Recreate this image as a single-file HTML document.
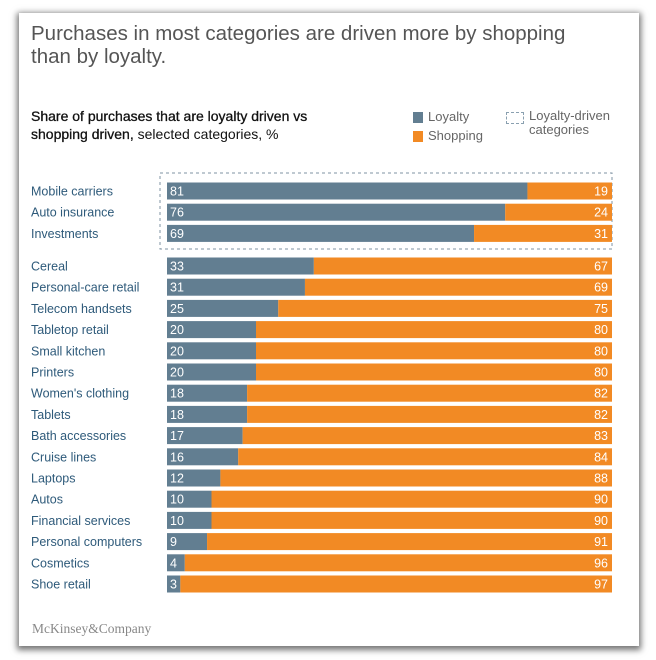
<!DOCTYPE html>
<html><head><meta charset="utf-8"><style>
body{margin:0;width:656px;height:660px;background:#fff;position:relative;font-family:"Liberation Sans",Arial,sans-serif;overflow:hidden}
#card{position:absolute;left:19px;top:13px;width:620px;height:633px;background:#fff;box-shadow:0 2px 6px 2px rgba(0,0,0,.55)}
.t{position:absolute;white-space:nowrap}
</style></head><body>
<div id="card"></div>
<div class="t" style="left:31px;top:22px;font-size:20.5px;line-height:23px;color:#555">Purchases in most categories are driven more by shopping<br>than by loyalty.</div>
<div class="t" style="left:31px;top:107px;font-size:14px;line-height:18px;color:#111"><b style="font-weight:normal;-webkit-text-stroke:.3px #111">Share of purchases that are loyalty driven vs<br>shopping driven,</b> selected categories, %</div>
<div style="position:absolute;left:413px;top:112px;width:10px;height:11px;background:#627e91"></div>
<div class="t" style="left:428px;top:109px;font-size:13px;color:#666">Loyalty</div>
<div style="position:absolute;left:413px;top:131px;width:10px;height:11px;background:#f28a24"></div>
<div class="t" style="left:428px;top:128px;font-size:13px;color:#666">Shopping</div>
<div style="position:absolute;left:506px;top:112px;width:16px;height:10px;border:1px dashed #8aa0b0"></div>
<div class="t" style="left:529px;top:109px;font-size:13px;line-height:14px;color:#666">Loyalty-driven<br>categories</div>
<svg id="chart" width="656" height="660" style="position:absolute;left:0;top:0"></svg>
<div class="t" style="left:32px;top:621px;font-family:'Liberation Serif',serif;font-size:13.5px;color:#888">McKinsey&amp;Company</div>
<script>
const categories=["Mobile carriers","Auto insurance","Investments","Cereal","Personal-care retail","Telecom handsets","Tabletop retail","Small kitchen","Printers","Women's clothing","Tablets","Bath accessories","Cruise lines","Laptops","Autos","Financial services","Personal computers","Cosmetics","Shoe retail"];
const loyalty=[81,76,69,33,31,25,20,20,20,18,18,17,16,12,10,10,9,4,3];
const shopping=[19,24,31,67,69,75,80,80,80,82,82,83,84,88,90,90,91,96,97];
const groupSize=3;
const svg=document.getElementById('chart');
const NS='http://www.w3.org/2000/svg';
const x0=167,x1=612;
function xs(v){return x0+(x1-x0)*v/100;}
function ys(i){return i<groupSize?182.5+i*21.2:257.5+(i-groupSize)*21.2;}
const bh=17;
function mk(tag,attrs,txt){const e=document.createElementNS(NS,tag);for(const k in attrs)e.setAttribute(k,attrs[k]);if(txt!==undefined)e.textContent=txt;svg.appendChild(e);return e;}
const box=mk('rect',{x:160,y:173,width:452,height:76,fill:'none',stroke:'#7f93a3','stroke-dasharray':'3,3','stroke-width':1});


categories.forEach((c,i)=>{
  const y=ys(i);const tot=loyalty[i]+shopping[i];
  const lw=xs(loyalty[i]*100/tot)-x0;
  const lab=mk('text',{x:31,y:y+13,'font-size':12.5,fill:'#2e5a7a','font-family':'Liberation Sans, sans-serif'},c);
  
  
  const b1=mk('rect',{x:x0,y:y,width:lw,height:bh,fill:'#627e91'});
  
  
  const b2=mk('rect',{x:x0+lw,y:y,width:x1-x0-lw,height:bh,fill:'#f28a24'});
  
  
  const t1=mk('text',{x:x0+3,y:y+13,'font-size':12.5,fill:'#fff','font-family':'Liberation Sans, sans-serif'},loyalty[i]);
  
  
  const t2=mk('text',{x:x1-4,y:y+13,'font-size':12.5,fill:'#fff','text-anchor':'end','font-family':'Liberation Sans, sans-serif'},shopping[i]);
  
  
});
</script>
</body></html>
